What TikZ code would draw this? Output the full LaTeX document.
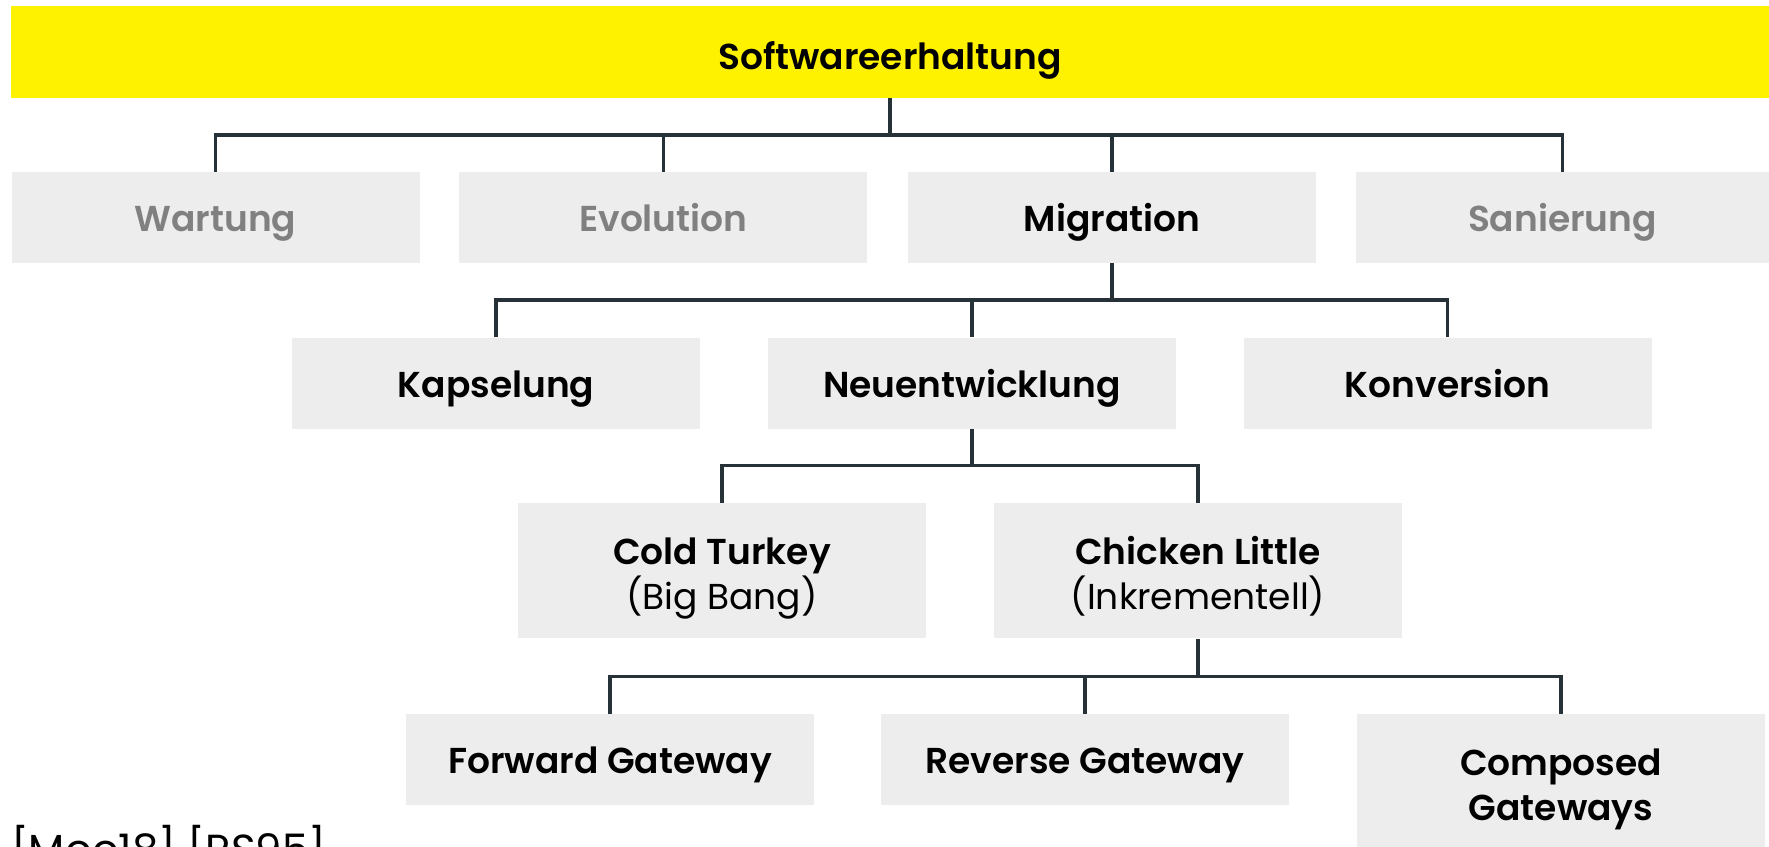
\documentclass[tikz,border=0pt]{standalone}
\usepackage{fontspec}
\setmainfont{Poppins}[BoldFont={Poppins SemiBold}]
\definecolor{hiyellow}{HTML}{FFF200}
\definecolor{boxgray}{HTML}{EDEDED}
\definecolor{mutedtext}{HTML}{808080}
\definecolor{linedark}{HTML}{263238}
\tikzset{
  box/.style={fill=boxgray, inner sep=0pt, align=center,
    minimum width=408pt, minimum height=91pt,
    text height=28pt, text depth=0pt,
    font=\fontsize{36}{45}\selectfont\bfseries},
  tallbox/.style={box, minimum height=135pt, text height=77pt},
  muted/.style={text=mutedtext},
  conn/.style={draw=linedark, line width=3.5pt}
}
\begin{document}
\begin{tikzpicture}[x=1pt, y=-1pt]
\useasboundingbox (0,0) rectangle (1769,846);
\clip (0,0) rectangle (1769,846);

% root
\node[box, fill=hiyellow, minimum width=1758pt, minimum height=92pt, text height=34pt] (root) at (890,52) {Softwareerhaltung};

% first level
\node[box, muted] (wartung)   at (215.5,217.2) {Wartung};
\node[box, muted] (evolution) at (663.4,217.2) {Evolution};
\node[box]        (migration) at (1111.9,217.2) {Migration};
\node[box, muted, minimum width=413pt] (sanierung) at (1562.5,217.2) {Sanierung};

% second level
\node[box] (kapselung) at (496,383) {Kapselung};
\node[box] (neu)       at (972,383) {Neuentwicklung};
\node[box] (konv)      at (1447.5,383) {Konversion};

% third level
\node[tallbox] (cold)    at (722,570.9) {Cold Turkey\\{\mdseries (Big Bang)}};
\node[tallbox] (chicken) at (1198,570.9) {Chicken Little\\{\mdseries (Inkrementell)}};

% fourth level
\node[box]     (fwd)  at (610,759.3)  {Forward Gateway};
\node[box]     (rev)  at (1085,759.3) {Reverse Gateway};
\node[tallbox] (comp) at (1561,781.5) {Composed\\Gateways};

% sources
\node[anchor=base west, inner sep=0pt, font=\fontsize{42}{45}\selectfont] (refs) at (11,864) {[Moo18] [RS95]};

% connectors: stem, bus, and drops for each family
\path (root.south) ++(0,37) coordinate (b1);
\draw[conn] (root.south) -- (b1);
\draw[conn] (wartung.north) |- (b1) -| (sanierung.north);
\draw[conn] (b1 -| evolution.north) -- (evolution.north);
\draw[conn] (b1 -| migration.north) -- (migration.north);

\path (migration.south) ++(0,37) coordinate (b2);
\draw[conn] (migration.south) -- (b2);
\draw[conn] (kapselung.north) |- (b2) -| (konv.north);
\draw[conn] (b2 -| neu.north) -- (neu.north);

\path (neu.south) ++(0,37) coordinate (b3);
\draw[conn] (neu.south) -- (b3);
\draw[conn] (cold.north) |- (b3) -| (chicken.north);

\path (chicken.south) ++(0,38) coordinate (b4);
\draw[conn] (chicken.south) -- (b4);
\draw[conn] (fwd.north) |- (b4) -| (comp.north);
\draw[conn] (b4 -| rev.north) -- (rev.north);
\end{tikzpicture}
\end{document}
